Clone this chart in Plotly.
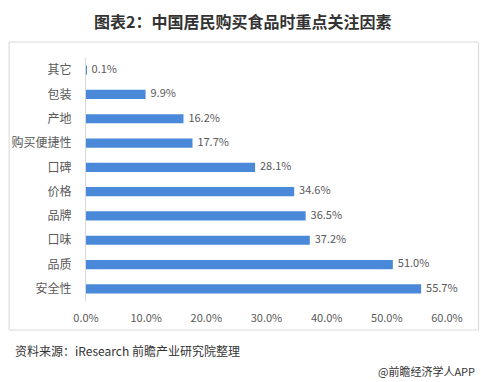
import plotly.graph_objects as go

categories = ["安全性", "品质", "口味", "品牌", "价格", "口碑", "购买便捷性", "产地", "包装", "其它"]
values = [55.7, 51.0, 37.2, 36.5, 34.6, 28.1, 17.7, 16.2, 9.9, 0.1]
tick_vals = [0, 10, 20, 30, 40, 50, 60]
tick_text = ["0.0%", "10.0%", "20.0%", "30.0%", "40.0%", "50.0%", "60.0%"]

W, H = 481, 382
L, R, T, B = 81, 447, 58, 301

FONT = "Noto Sans CJK SC, Microsoft YaHei, sans-serif"

fig = go.Figure()
fig.add_trace(go.Bar(
    x=values, y=categories, orientation="h",
    marker=dict(color="#4A88DA", line=dict(width=0)),
    width=0.38, hoverinfo="x+y",
))
fig.add_trace(go.Scatter(
    x=values, y=categories, mode="text",
    text=[f"  {v:.1f}%" for v in values],
    textposition="middle right", cliponaxis=False,
    textfont=dict(size=11, color="#595959", family=FONT),
    hoverinfo="skip",
))

def px(x):
    return (x - L) / (R - L)

def py(y):
    return (B - y) / (B - T)

fig.update_layout(
    width=W, height=H,
    margin=dict(l=L, r=W - R, t=T, b=H - B),
    paper_bgcolor="white", plot_bgcolor="white",
    showlegend=False,
    font=dict(family=FONT, color="#595959", size=11),
    xaxis=dict(range=[0, 60], tickvals=tick_vals, ticktext=tick_text,
               showgrid=False, zeroline=False, showline=False,
               ticks="", tickfont=dict(size=11, color="#595959"), ticklen=0,
               ticklabelstandoff=9),
    yaxis=dict(showgrid=False, zeroline=False, showline=True, linecolor="#D9D9D9",
               linewidth=1, ticks="", ticklabelstandoff=11,
               tickfont=dict(size=12, color="#595959")),
    bargap=0.6,
    shapes=[dict(type="rect", xref="paper", yref="paper",
                 x0=px(3), x1=px(479), y0=py(330), y1=py(42),
                 line=dict(color="#D9D9D9", width=1), fillcolor="rgba(0,0,0,0)", layer="below")],
    annotations=[
        dict(text="<b>图表2：中国居民购买食品时重点关注因素</b>", xref="paper", yref="paper",
             x=px(240), y=py(21), xanchor="center", yanchor="middle", showarrow=False,
             font=dict(size=16, color="#333333", family=FONT)),
        dict(text="资料来源：iResearch 前瞻产业研究院整理", xref="paper", yref="paper",
             x=px(7), y=py(350), xanchor="left", yanchor="middle", showarrow=False,
             font=dict(size=12, color="#333333", family=FONT)),
        dict(text="@前瞻经济学人APP", xref="paper", yref="paper",
             x=px(477), y=py(371), xanchor="right", yanchor="middle", showarrow=False,
             font=dict(size=11, color="#333333", family=FONT)),
    ],
)

fig.write_html("out.html", config={"displayModeBar": False},
               post_script="document.body.style.margin='0';")
